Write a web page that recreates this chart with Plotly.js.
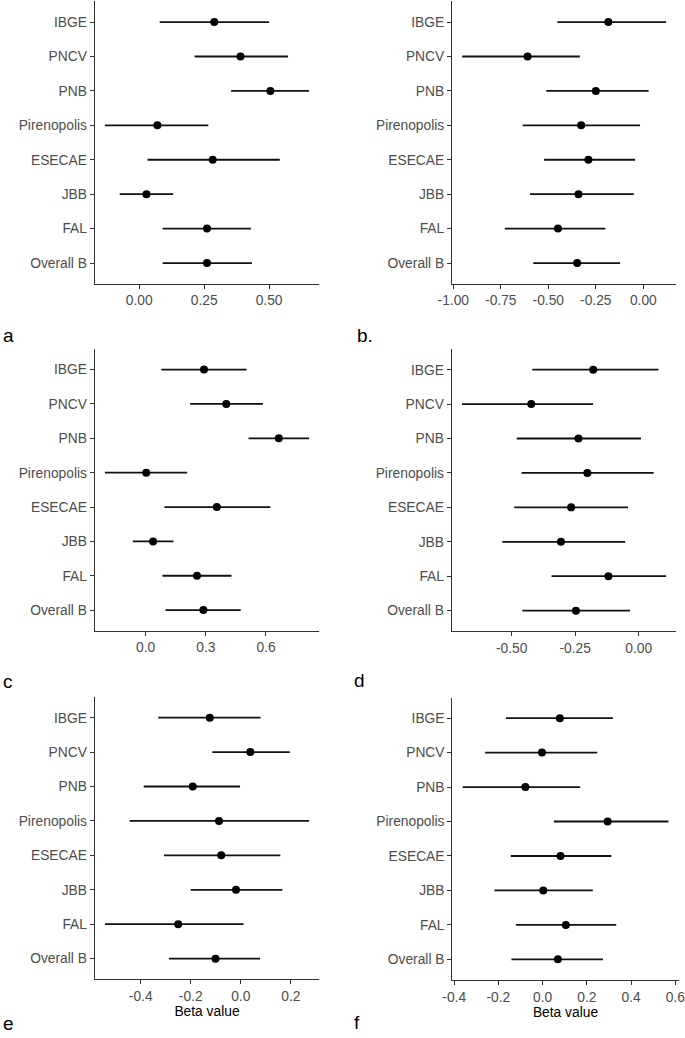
<!DOCTYPE html>
<html>
<head>
<meta charset="utf-8">
<script src="https://cdn.plot.ly/plotly-3.0.1.min.js"></script>
<style>html,body{margin:0;padding:0;background:#fff;}#chart{width:685px;height:1038px;}</style>
</head>
<body>
<div id="chart"></div>
<script>
var categories = ['IBGE','PNCV','PNB','Pirenopolis','ESECAE','JBB','FAL','Overall B'];

var a_est = [0.289, 0.390, 0.505, 0.070, 0.283, 0.028, 0.261, 0.261];
var a_lo  = [0.079, 0.213, 0.354, -0.132, 0.032, -0.075, 0.090, 0.090];
var a_hi  = [0.500, 0.573, 0.654, 0.266, 0.541, 0.131, 0.430, 0.434];

var b_est = [-0.184, -0.609, -0.250, -0.327, -0.289, -0.341, -0.449, -0.348];
var b_lo  = [-0.452, -0.953, -0.510, -0.635, -0.522, -0.596, -0.729, -0.579];
var b_hi  = [0.120, -0.334, 0.028, -0.017, -0.043, -0.050, -0.200, -0.122];

var c_est = [0.291, 0.402, 0.664, 0.003, 0.355, 0.037, 0.256, 0.288];
var c_lo  = [0.078, 0.222, 0.513, -0.203, 0.094, -0.064, 0.084, 0.099];
var c_hi  = [0.503, 0.585, 0.815, 0.207, 0.622, 0.139, 0.428, 0.474];

var d_est = [-0.179, -0.423, -0.237, -0.202, -0.266, -0.306, -0.119, -0.247];
var d_lo  = [-0.419, -0.696, -0.480, -0.461, -0.490, -0.537, -0.343, -0.458];
var d_hi  = [0.078, -0.179, 0.009, 0.059, -0.042, -0.053, 0.108, -0.034];

var e_est = [-0.124, 0.038, -0.192, -0.087, -0.078, -0.019, -0.250, -0.101];
var e_lo  = [-0.330, -0.114, -0.388, -0.444, -0.307, -0.200, -0.543, -0.287];
var e_hi  = [0.079, 0.196, -0.003, 0.273, 0.158, 0.166, 0.011, 0.077];

var f_est = [0.078, -0.003, -0.078, 0.294, 0.081, 0.003, 0.105, 0.069];
var f_lo  = [-0.166, -0.260, -0.362, 0.051, -0.144, -0.218, -0.121, -0.141];
var f_hi  = [0.318, 0.247, 0.170, 0.569, 0.311, 0.227, 0.333, 0.273];

var ticks_a = [0, 0.25, 0.5];          var ticktext_a = ['0.00','0.25','0.50'];
var ticks_b = [-1, -0.75, -0.5, -0.25, 0]; var ticktext_b = ['-1.00','-0.75','-0.50','-0.25','0.00'];
var ticks_c = [0, 0.3, 0.6];           var ticktext_c = ['0.0','0.3','0.6'];
var ticks_d = [-0.5, -0.25, 0];        var ticktext_d = ['-0.50','-0.25','0.00'];
var ticks_e = [-0.4, -0.2, 0, 0.2];    var ticktext_e = ['-0.4','-0.2','0.0','0.2'];
var ticks_f = [-0.4, -0.2, 0, 0.2, 0.4, 0.6]; var ticktext_f = ['-0.4','-0.2','0.0','0.2','0.4','0.6'];

var panelLabels = ['a','b.','c','d','e','f'];
var xTitle = 'Beta value';

var W = 685, H = 1038;
var panels = [
  {est:a_est, lo:a_lo, hi:a_hi, tv:ticks_a, tt:ticktext_a, L:94.7, R:319.3, T:1.4, B:283.7, lab:[1,335], title:false},
  {est:b_est, lo:b_lo, hi:b_hi, tv:ticks_b, tt:ticktext_b, L:452, R:676.3, T:1.4, B:283.7, lab:[355,335], title:false},
  {est:c_est, lo:c_lo, hi:c_hi, tv:ticks_c, tt:ticktext_c, L:94.7, R:319.3, T:349, B:630.7, lab:[1,681], title:false},
  {est:d_est, lo:d_lo, hi:d_hi, tv:ticks_d, tt:ticktext_d, L:451.7, R:676.3, T:349, B:631.3, lab:[352,680], title:false},
  {est:e_est, lo:e_lo, hi:e_hi, tv:ticks_e, tt:ticktext_e, L:94.7, R:319.3, T:697, B:979.3, lab:[1,1023], title:true},
  {est:f_est, lo:f_lo, hi:f_hi, tv:ticks_f, tt:ticktext_f, L:452.3, R:678.7, T:697.5, B:980, lab:[352,1022], title:true}
];

var tickFont = {family:'Liberation Sans, Arial, sans-serif', size:13.8, color:'#4d4d4d'};
var lineCol = '#333333';
var traces = [];
var layout = {
  width:W, height:H, margin:{l:0,r:0,t:0,b:0},
  paper_bgcolor:'#ffffff', plot_bgcolor:'#ffffff',
  showlegend:false, annotations:[]
};

panels.forEach(function(p, i){
  var n = i + 1;
  var xa = 'x' + (n === 1 ? '' : n), ya = 'y' + (n === 1 ? '' : n);
  var plus = p.hi.map(function(v,k){ return v - p.est[k]; });
  var minus = p.est.map(function(v,k){ return v - p.lo[k]; });
  traces.push({
    type:'scatter', mode:'markers', x:p.est, y:categories, xaxis:xa, yaxis:ya,
    marker:{color:'#000000', size:8},
    error_x:{type:'data', symmetric:false, array:plus, arrayminus:minus, width:0, thickness:1.8, color:'#111111'},
    hoverinfo:'x+y', cliponaxis:false
  });
  var mn = Math.min.apply(null, p.lo), mx = Math.max.apply(null, p.hi);
  var ex = (mx - mn) * 0.05;
  var xaxis = {
    domain:[p.L / W, p.R / W], anchor:ya, range:[mn - ex, mx + ex],
    tickmode:'array', tickvals:p.tv, ticktext:p.tt, ticklabeloverflow:'allow',
    showgrid:false, zeroline:false, showline:true, linecolor:lineCol, linewidth:1,
    ticks:'outside', ticklen:4, tickwidth:1, tickcolor:lineCol, tickfont:tickFont
  };
  if (p.title) {
    xaxis.title = {text:xTitle, font:{family:'Liberation Sans, Arial, sans-serif', size:13.8, color:'#000000'}, standoff:1};
  }
  var yaxis = {
    domain:[(H - p.B) / H, (H - p.T) / H], anchor:xa,
    type:'category', categoryorder:'array', categoryarray:categories, range:[7.6, -0.6],
    showgrid:false, zeroline:false, showline:true, linecolor:lineCol, linewidth:1,
    ticks:'outside', ticklen:4, tickwidth:1, tickcolor:lineCol, tickfont:tickFont
  };
  layout['xaxis' + (n === 1 ? '' : n)] = xaxis;
  layout['yaxis' + (n === 1 ? '' : n)] = yaxis;
  layout.annotations.push({
    text:panelLabels[i], xref:'paper', yref:'paper',
    x:p.lab[0] / W, y:(H - p.lab[1]) / H, xanchor:'left', yanchor:'middle',
    showarrow:false, font:{family:'Liberation Sans, Arial, sans-serif', size:19, color:'#000000'}
  });
});

Plotly.newPlot('chart', traces, layout, {displayModeBar:false, staticPlot:true});
</script>
</body>
</html>
